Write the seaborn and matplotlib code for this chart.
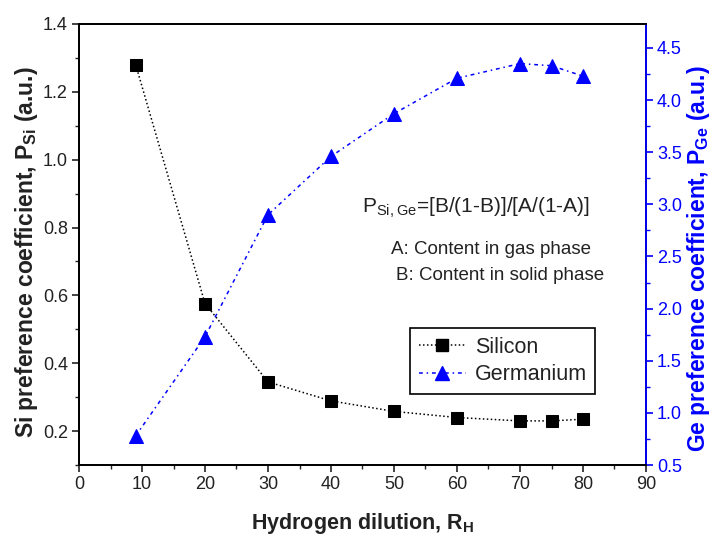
import matplotlib
matplotlib.use("Agg")
import matplotlib.pyplot as plt
from matplotlib.ticker import MultipleLocator, FormatStrFormatter
from matplotlib.lines import Line2D
import seaborn as sns
import pandas as pd

# Hydrogen dilution ratio and preference coefficients
dilution = [9, 20, 30, 40, 50, 60, 70, 75, 80]
si_pref = [1.28, 0.576, 0.345, 0.289, 0.258, 0.240, 0.230, 0.230, 0.235]
ge_pref = [0.78, 1.73, 2.90, 3.46, 3.87, 4.21, 4.35, 4.33, 4.23]
series_names = ["Silicon", "Germanium"]

sns.set_theme(style="ticks")
plt.rcParams['font.family'] = ['Liberation Sans', 'DejaVu Sans']
plt.rcParams['mathtext.fontset'] = 'custom'
plt.rcParams['mathtext.rm'] = 'Liberation Sans'
plt.rcParams['mathtext.bf'] = 'Liberation Sans:bold'

df = pd.DataFrame({"RH": dilution, "Si": si_pref, "Ge": ge_pref})

W, H = 713, 543
L, R, T, B = 79, 646, 24, 465
fig = plt.figure(figsize=(W / 100, H / 100), dpi=100)
ax = fig.add_axes([L / W, 1 - B / H, (R - L) / W, (B - T) / H])
ax2 = ax.twinx()

si_ls = (0, (1, 1.6))
ge_ls = (0, (2.5, 2.5, 1, 2.5))
txt = "#222222"

sns.lineplot(data=df, x="RH", y="Si", ax=ax, color="black", linestyle=si_ls,
             linewidth=1.1, marker="s", markersize=8, markeredgecolor="black",
             legend=False)
sns.lineplot(data=df, x="RH", y="Ge", ax=ax2, color="blue", linestyle=ge_ls,
             linewidth=1.1, marker="^", markersize=10, markeredgecolor="blue",
             legend=False)

ax.set_xlim(0, 90)
ax.set_ylim(0.1, 1.4)
ax2.set_ylim(0.5, 4.73)

ax.xaxis.set_major_locator(MultipleLocator(10))
ax.xaxis.set_minor_locator(MultipleLocator(5))
ax.yaxis.set_major_locator(MultipleLocator(0.2))
ax.yaxis.set_minor_locator(MultipleLocator(0.1))
ax2.yaxis.set_major_locator(MultipleLocator(0.5))
ax2.yaxis.set_minor_locator(MultipleLocator(0.25))
ax.yaxis.set_major_formatter(FormatStrFormatter('%.1f'))
ax2.yaxis.set_major_formatter(FormatStrFormatter('%.1f'))

for a in (ax, ax2):
    for s in a.spines.values():
        s.set_linewidth(1.3)
        s.set_color("black")
        s.set_visible(True)
ax2.spines["right"].set_color("blue")

ax.tick_params(axis="both", which="major", direction="out", length=5, width=1.2,
               labelsize=13, colors=txt, pad=3)
ax.tick_params(axis="both", which="minor", direction="out", length=3, width=1.0,
               color=txt)
ax.tick_params(axis="y", which="both", right=False)
ax.tick_params(axis="x", which="both", top=False)
ax2.tick_params(axis="y", which="major", direction="out", length=5, width=1.2,
                labelsize=13, colors="blue", pad=3)
ax2.tick_params(axis="y", which="minor", direction="out", length=3, width=1.0,
                colors="blue")

ax.set_xlabel("Hydrogen dilution, R$_\\mathbf{H}$", fontsize=15.5,
              fontweight="bold", color=txt)
ax.set_ylabel("Si preference coefficient, P$_\\mathbf{Si}$ (a.u.)", fontsize=16.5,
              fontweight="bold", color=txt)
ax2.set_ylabel("Ge preference coefficient, P$_\\mathbf{Ge}$ (a.u.)", fontsize=16.5,
               fontweight="bold", color="blue")

# place axis titles by pixel centre
ax.xaxis.label.set(va="center", ha="center")
ax.xaxis.set_label_coords(0.5, (B - 524) / (B - T))
for lab in (ax.yaxis.label, ax2.yaxis.label):
    lab.set(va="center", ha="center", rotation_mode="default")
ax.yaxis.set_label_coords((26 - L) / (R - L), (B - 252) / (B - T))
ax2.yaxis.set_label_coords((699 - L) / (R - L), (B - 259) / (B - T))

def px(x, y):
    return (x - L) / (R - L), (B - y) / (B - T)

ax.text(*px(362, 208), "P$_\\mathregular{Si,Ge}$=[B/(1-B)]/[A/(1-A)]",
        transform=ax.transAxes, fontsize=15, color=txt, ha="left", va="center")
ax.text(*px(491, 250), "A: Content in gas phase", transform=ax.transAxes,
        fontsize=13.5, color=txt, ha="center", va="center")
ax.text(*px(500, 275), "B: Content in solid phase", transform=ax.transAxes,
        fontsize=13.5, color=txt, ha="center", va="center")

handles = [
    Line2D([], [], color="black", linestyle=si_ls, linewidth=1.1, marker="s",
           markersize=8),
    Line2D([], [], color="blue", linestyle=ge_ls, linewidth=1.1, marker="^",
           markersize=10),
]
leg = ax.legend(handles, series_names, loc="upper left",
                bbox_to_anchor=px(410, 328), fontsize=15.5, frameon=True,
                fancybox=False, edgecolor="black", framealpha=1,
                handlelength=2.2, borderpad=0.4, labelspacing=0.3,
                handletextpad=0.4, borderaxespad=0)
leg.get_frame().set_linewidth(1.2)
for t in leg.get_texts():
    t.set_color(txt)

fig.savefig("out.png", dpi=100)
